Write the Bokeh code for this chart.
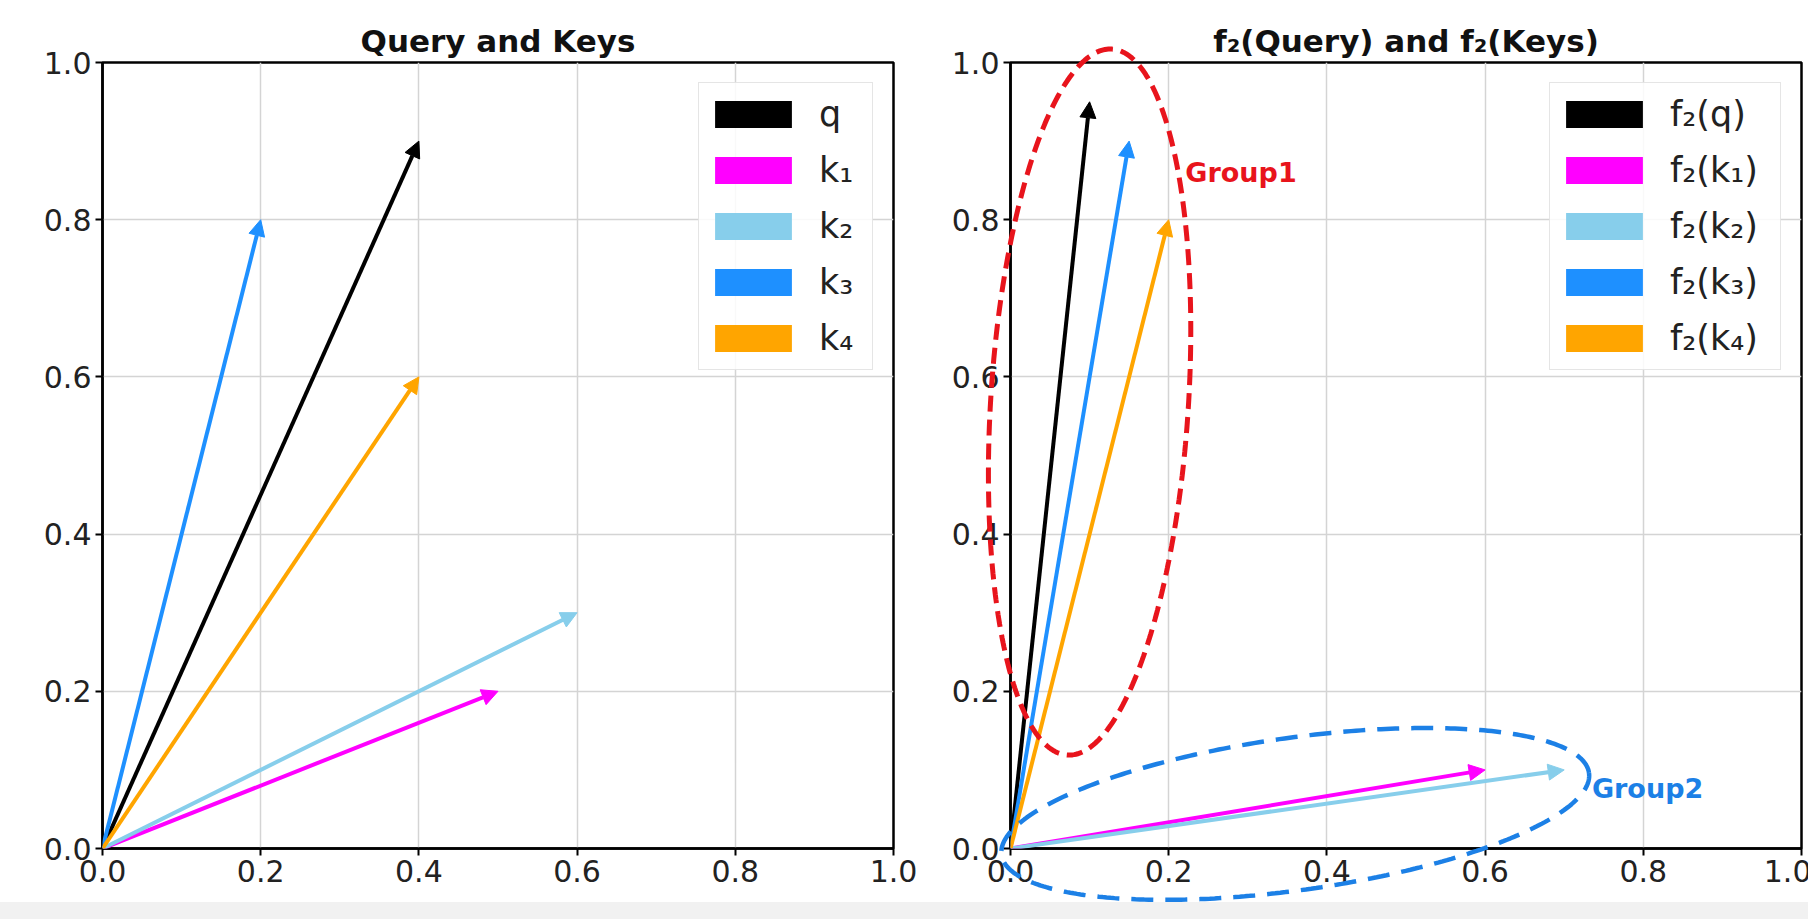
import numpy as np
from bokeh.plotting import figure
from bokeh.layouts import row, column
from bokeh.models import (Range1d, FixedTicker, PrintfTickFormatter, Arrow, NormalHead,
                          ColumnDataSource, Legend, LegendItem, Label, Div)
from bokeh.embed import file_html
from bokeh.resources import INLINE

# ---- data ----
left_labels = ["q", "k₁", "k₂", "k₃", "k₄"]
right_labels = ["f₂(q)", "f₂(k₁)", "f₂(k₂)", "f₂(k₃)", "f₂(k₄)"]
colors = ["#000000", "#ff00ff", "#87ceeb", "#1e90ff", "#ffa500"]
left_x = [0.4, 0.5, 0.6, 0.2, 0.4]
left_y = [0.9, 0.2, 0.3, 0.8, 0.6]
right_x = [0.1, 0.6, 0.7, 0.15, 0.2]
right_y = [0.95, 0.1, 0.1, 0.9, 0.8]
ticks = [0.0, 0.2, 0.4, 0.6, 0.8, 1.0]
titles = ["Query and Keys", "f₂(Query) and f₂(Keys)"]
group_labels = ["Group1", "Group2"]

FONT = "DejaVu Sans"


def make_panel(title, xs, ys, labels, width, bl, br, lab_w):
    p = figure(width=width, height=902, frame_width=791, frame_height=786,
               x_range=Range1d(0, 1), y_range=Range1d(0, 1),
               output_backend="svg", toolbar_location=None,
               min_border_left=bl, min_border_right=br,
               min_border_top=62, min_border_bottom=54)
    p.title.text = title
    p.title.align = "center"
    p.title.text_font = FONT
    p.title.text_font_size = "31px"
    p.title.text_font_style = "bold"
    p.title.text_color = "#111111"
    p.title.standoff = 8
    p.outline_line_color = "black"
    p.outline_line_width = 2.5
    p.outline_line_alpha = 1
    p.background_fill_color = "white"
    p.border_fill_color = "white"
    for ax in (p.xaxis[0], p.yaxis[0]):
        ax.ticker = FixedTicker(ticks=ticks)
        ax.formatter = PrintfTickFormatter(format="%.1f")
        ax.major_label_text_font = FONT
        ax.major_label_text_font_size = "30px"
        ax.major_label_text_color = "#222222"
        ax.axis_line_color = "black"
        ax.axis_line_width = 2.5
        ax.major_tick_line_color = "black"
        ax.major_tick_line_width = 2
        ax.major_tick_out = 7
        ax.major_tick_in = 0
        ax.minor_tick_line_color = None
        ax.major_label_standoff = 4
    for g in (p.xgrid[0], p.ygrid[0]):
        g.ticker = FixedTicker(ticks=ticks)
        g.grid_line_color = "#d4d4d4"
        g.grid_line_width = 1.5

    items = []
    for lab, c, x1, y1 in zip(labels, colors, xs, ys):
        src = ColumnDataSource(dict(x0=[0.0], y0=[0.0], x1=[x1], y1=[y1]))
        p.add_layout(Arrow(source=src, x_start="x0", y_start="y0", x_end="x1", y_end="y1",
                           line_color=c, line_width=4,
                           end=NormalHead(size=16, fill_color=c, line_color=c, line_width=1)))
        # zero-size patch used only as the legend swatch
        r = p.rect(x=[x1], y=[y1], width=0, height=0, fill_color=c, line_color=None)
        items.append(LegendItem(label=lab, renderers=[r]))
    leg = Legend(items=items, location="top_right", margin=20, padding=6,
                 glyph_width=96, glyph_height=34, label_standoff=18,
                 label_height=50, label_width=lab_w, spacing=6,
                 label_text_font=FONT, label_text_font_size="35px",
                 label_text_color="#222222",
                 background_fill_color="white", background_fill_alpha=0.85,
                 border_line_color="#cccccc", border_line_width=1.5)
    p.add_layout(leg, "center")
    return p


def ellipse_pts(cx, cy, a, b, ux, uy, n=360):
    t = np.linspace(0, 2 * np.pi, n + 1)
    vx, vy = -uy, ux
    xs = cx + a * np.cos(t) * ux + b * np.sin(t) * vx
    ys = cy + a * np.cos(t) * uy + b * np.sin(t) * vy
    return list(xs), list(ys)


p1 = make_panel(titles[0], left_x, left_y, left_labels, 948, 102, 55, 47)
p2 = make_panel(titles[1], right_x, right_y, right_labels, 860, 59, 10, 104)

RED = "#e8141c"
BLUE = "#1c80e6"
# Group outlines (overlay level so they may run past the axes frame)
th1 = np.deg2rad(3.6)
ex, ey = ellipse_pts(0.1, 0.568, 0.45, 0.125, np.sin(th1), np.cos(th1))
p2.line(x=ex, y=ey, line_color=RED, line_width=5, line_dash="16 8", level="overlay")
th2 = np.deg2rad(8)
ex, ey = ellipse_pts(0.36, 0.044, 0.375, 0.097, np.cos(th2), np.sin(th2))
p2.line(x=ex, y=ey, line_color=BLUE, line_width=4.5, line_dash="22 12", level="overlay")

p2.add_layout(Label(x=0.221, y=0.86, text=group_labels[0], text_color=RED,
                    text_font=FONT, text_font_style="bold", text_font_size="27px",
                    text_baseline="middle"))
p2.add_layout(Label(x=0.735, y=0.076, text=group_labels[1], text_color=BLUE,
                    text_font=FONT, text_font_style="bold", text_font_size="27px",
                    text_baseline="middle"))

strip = Div(text="", width=1808, height=17,
            styles={"background-color": "#f1f1f1", "margin": "0"})
layout = column(row(p1, p2), strip)
open("out.html", "w").write(file_html(layout, INLINE))
